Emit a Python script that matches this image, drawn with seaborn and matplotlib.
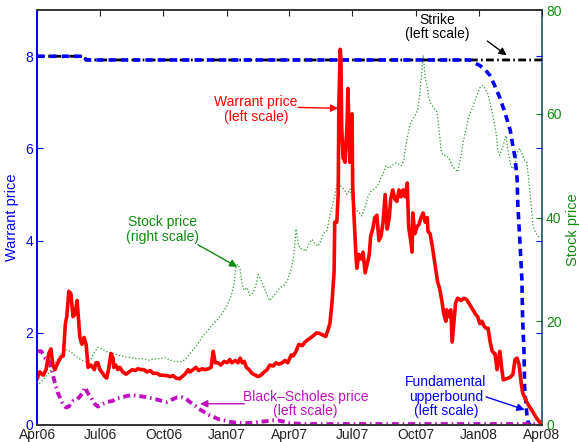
import matplotlib
matplotlib.use("Agg")
import matplotlib.pyplot as plt
import matplotlib.dates as mdates
import seaborn as sns
import pandas as pd
import numpy as np

# days counted from 2006-04-01
START = pd.Timestamp("2006-04-01")

warrant_day = [0, 4, 9, 13, 17, 20, 23, 26, 30, 35, 38, 41, 43, 46, 49, 52, 55, 58, 59, 62,
               65, 68, 71, 74, 78, 83, 85, 88, 91, 96, 98, 101, 104, 107, 110, 111, 114, 117, 120, 124,
               129, 133, 138, 142, 146, 151, 155, 159, 164, 168, 174, 178, 182, 188, 193, 197, 201, 206, 210, 214,
               219, 221, 226, 230, 234, 239, 243, 248, 252, 255, 258, 262, 266, 271, 275, 279, 282, 287, 291, 294,
               297, 300, 303, 307, 311, 316, 320, 324, 329, 333, 337, 342, 346, 350, 355, 359, 363, 368, 371, 375,
               379, 384, 388, 392, 397, 401, 405, 410, 414, 418, 421, 424, 427, 430, 431, 434, 436, 437, 439, 440,
               441, 443, 446, 449, 450, 452, 453, 455, 456, 457, 459, 462, 463, 466, 469, 472, 475, 478, 481, 483,
               486, 489, 492, 495, 498, 501, 504, 507, 510, 512, 515, 518, 521, 524, 527, 530, 533, 536, 538, 541,
               543, 544, 547, 550, 553, 556, 559, 562, 565, 566, 569, 572, 575, 578, 580, 583, 586, 589, 592, 593,
               596, 599, 601, 604, 606, 609, 614, 618, 622, 627, 631, 635, 638, 641, 644, 647, 650, 653, 656, 659,
               662, 663, 666, 669, 670, 673, 675, 679, 683, 686, 689, 692, 695, 698, 701, 703, 706, 709, 712, 715,
               718, 721, 724, 727, 730]
warrant_price = [1.0, 1.15, 1.08, 1.2, 1.55, 1.65, 1.3, 1.2, 1.35, 1.48, 1.5, 2.2, 2.35, 2.9, 2.85, 2.35, 2.4, 2.7, 2.5, 1.9,
                 1.75, 1.9, 1.75, 1.25, 1.3, 1.2, 1.35, 1.35, 1.2, 1.1, 1.05, 1.02, 1.25, 1.55, 1.45, 1.25, 1.3, 1.2, 1.25, 1.15,
                 1.1, 1.15, 1.2, 1.18, 1.22, 1.2, 1.2, 1.15, 1.18, 1.12, 1.12, 1.08, 1.08, 1.07, 1.05, 1.07, 1.02, 1.0, 1.05, 1.1,
                 1.2, 1.15, 1.2, 1.25, 1.18, 1.22, 1.2, 1.22, 1.25, 1.6, 1.35, 1.35, 1.3, 1.38, 1.35, 1.42, 1.35, 1.4, 1.35, 1.45,
                 1.35, 1.38, 1.25, 1.2, 1.12, 1.08, 1.05, 1.08, 1.15, 1.2, 1.3, 1.28, 1.35, 1.32, 1.35, 1.4, 1.35, 1.52, 1.5, 1.6,
                 1.75, 1.72, 1.8, 1.85, 1.9, 1.95, 2.0, 1.98, 1.95, 1.92, 2.05, 2.2, 2.65, 3.3, 4.4, 4.4, 5.0, 7.0, 8.15, 7.9,
                 6.5, 5.8, 5.7, 6.6, 7.3, 6.2, 5.7, 6.4, 6.75, 5.2, 4.5, 3.6, 3.4, 3.7, 3.6, 3.75, 3.3, 3.5, 3.7, 4.1,
                 4.25, 4.5, 4.55, 4.0, 4.1, 4.4, 5.0, 4.25, 4.5, 4.9, 5.1, 4.9, 4.85, 5.1, 4.95, 5.1, 4.95, 5.25, 4.3, 4.0,
                 3.75, 4.6, 4.15, 4.3, 4.35, 4.5, 4.6, 4.4, 4.5, 4.2, 4.15, 3.9, 3.6, 3.3, 3.1, 2.95, 2.7, 2.4, 2.25, 2.5,
                 2.35, 2.5, 1.8, 2.3, 2.65, 2.75, 2.7, 2.75, 2.72, 2.6, 2.5, 2.4, 2.35, 2.2, 2.25, 2.15, 2.1, 2.1, 1.8, 1.6,
                 1.55, 1.55, 1.2, 1.5, 1.6, 1.2, 0.98, 1.0, 1.02, 1.05, 1.1, 1.42, 1.45, 1.3, 0.9, 0.7, 0.6, 0.5, 0.42, 0.35,
                 0.28, 0.2, 0.13, 0.08, 0.02]

stock_day = [0, 7, 14, 22, 29, 36, 43, 48, 54, 59, 65, 71, 77, 83, 88, 96, 103, 110, 117, 126,
             135, 143, 152, 161, 169, 178, 185, 193, 201, 210, 217, 224, 232, 239, 246, 253, 261, 268, 275, 281,
             285, 288, 291, 294, 297, 300, 304, 308, 313, 317, 320, 324, 329, 333, 337, 342, 346, 352, 358, 363,
             368, 372, 375, 378, 381, 385, 389, 394, 398, 402, 407, 411, 415, 420, 424, 428, 433, 436, 440, 444,
             449, 453, 457, 462, 466, 470, 475, 479, 483, 488, 492, 496, 501, 505, 510, 514, 518, 523, 527, 531,
             534, 537, 540, 544, 549, 551, 554, 557, 559, 562, 565, 567, 570, 575, 579, 582, 585, 588, 592, 596,
             601, 605, 609, 614, 617, 621, 625, 630, 634, 638, 641, 646, 650, 653, 656, 660, 665, 667, 670, 675,
             679, 683, 686, 689, 693, 696, 699, 703, 706, 709, 712, 715, 718, 722, 728]
stock_price = [7.5, 8.5, 9.5, 11, 12.5, 14, 14.5, 14.2, 13.5, 13, 12.5, 12.2, 12.5, 14, 15, 14.5, 14, 13.8, 13.5, 13.2,
               13, 12.8, 12.8, 12.5, 12.7, 12.8, 13, 12.5, 12.2, 12.2, 13, 14.2, 15.5, 17, 18, 19.2, 20.3, 21.5, 23, 25,
               27, 30.5, 31, 30, 27, 26, 26.5, 25, 25.5, 27, 29, 28, 26.5, 25, 24, 24.8, 25.5, 26.5, 27, 28,
               30, 33, 37.8, 35, 34, 34, 33.5, 35, 35.8, 35, 34.5, 35.5, 37, 37.5, 40.5, 42.5, 45.5, 47, 46, 45.5,
               44.5, 45.5, 43, 41.5, 41, 40.3, 42, 44, 45, 45.5, 46, 47, 48.5, 50, 49.5, 50, 50.5, 50.4, 50, 51,
               54, 56, 58, 59, 60, 61, 63.5, 68, 71.3, 67, 65, 63, 62, 61, 60.4, 57, 53, 52, 52, 51.5,
               50, 49.4, 48.8, 52, 54.6, 57, 59.5, 61, 62.5, 64, 65, 65.5, 64.5, 63.8, 62, 59.7, 56, 53, 52, 54,
               55.8, 52, 50, 49.4, 51, 53, 53.3, 52, 51, 50.7, 47, 43, 38.4, 37, 36]

bs_day = [0, 6, 12, 17, 22, 26, 30, 36, 42, 46, 52, 58, 62, 67, 69, 74, 78, 84, 88, 94,
          101, 109, 116, 123, 130, 138, 145, 152, 159, 166, 174, 181, 188, 195, 203, 210, 217, 223, 229, 234,
          240, 248, 255, 262, 271, 279, 288, 297, 305, 314, 323, 331, 340, 349, 358, 366, 375, 388, 410, 730]
bs_price = [1.6, 1.6, 1.45, 1.4, 1.15, 0.9, 0.7, 0.5, 0.38, 0.4, 0.52, 0.55, 0.62, 0.72, 0.82, 0.68, 0.6, 0.45, 0.4, 0.45,
            0.5, 0.52, 0.58, 0.6, 0.63, 0.65, 0.63, 0.62, 0.6, 0.58, 0.55, 0.52, 0.5, 0.55, 0.6, 0.6, 0.55, 0.48, 0.42, 0.35,
            0.3, 0.22, 0.18, 0.13, 0.1, 0.07, 0.05, 0.04, 0.04, 0.05, 0.07, 0.08, 0.1, 0.1, 0.07, 0.04, 0.03, 0.02, 0.02, 0.02]

strike_day = [0, 68, 71, 731]
strike = [8.0, 8.0, 7.92, 7.92]

bound_day = [0, 68, 71, 627, 634, 641, 648, 656, 663, 670, 677, 685, 689, 692, 695, 696, 699, 702, 703, 705,
             706, 709, 711, 714]
bound = [8.0, 8.0, 7.92, 7.92, 7.85, 7.8, 7.72, 7.58, 7.35, 7.1, 6.8, 6.4, 6.05, 5.8, 5.35, 4.8, 4.0, 3.15, 2.3, 1.6,
         0.8, 0.25, 0.05, 0.0]


def to_dates(days):
    return START + pd.to_timedelta(days, unit="D")


BLUE = "#0000ff"
GREEN = "#118a11"
RED = "#ff0000"
MAGENTA = "#c010c0"

sns.set_style("white")
plt.rcParams["font.family"] = ["Liberation Sans", "DejaVu Sans"]
plt.rcParams["font.size"] = 10

fig = plt.figure(figsize=(5.79, 4.42), dpi=100)
ax1 = fig.add_axes([0.064, 0.0385, 0.872, 0.9385])
ax2 = ax1.twinx()

# right scale: stock price
sns.lineplot(x=to_dates(stock_day), y=stock_price, ax=ax2, color="#2a9a2a",
             linestyle=":", linewidth=0.9)

# left scale
sns.lineplot(x=to_dates(strike_day), y=strike, ax=ax1, color="black",
             dashes=(2.8, 1.2, 0.6, 1.2), linewidth=2.0)
sns.lineplot(x=to_dates(bound_day), y=bound, ax=ax1, color=BLUE,
             dashes=(2, 1.4), linewidth=2.6)
sns.lineplot(x=to_dates(bs_day), y=bs_price, ax=ax1, color=MAGENTA,
             dashes=(1.8, 1.0, 0.4, 1.0), linewidth=2.8)
sns.lineplot(x=to_dates(warrant_day), y=warrant_price, ax=ax1, color=RED,
             linewidth=2.6)

ax1.set_zorder(ax2.get_zorder() + 1)
ax1.patch.set_visible(False)

ax1.set_xlim(pd.Timestamp("2006-04-01"), pd.Timestamp("2008-04-01"))
ax1.set_ylim(0, 9)
ax2.set_ylim(0, 80)
ax1.set_yticks([0, 2, 4, 6, 8])
ax2.set_yticks([0, 20, 40, 60, 80])

ax1.xaxis.set_major_locator(mdates.MonthLocator(bymonth=[1, 4, 7, 10]))
ax1.xaxis.set_major_formatter(mdates.DateFormatter("%b%y"))

ax1.tick_params(axis="x", direction="in", top=True, length=4, colors="#222222",
                labelsize=10, pad=2)
ax1.tick_params(axis="y", direction="in", right=True, length=4, colors=BLUE,
                labelsize=10, pad=3)
ax2.tick_params(axis="y", direction="in", length=4, colors=GREEN, labelsize=10, pad=3)

for sp in ["top", "bottom"]:
    ax1.spines[sp].set_color("#333333")
    ax1.spines[sp].set_linewidth(1.4)
ax1.spines["left"].set_color(BLUE)
ax1.spines["left"].set_linewidth(1.4)
ax1.spines["right"].set_visible(False)
for sp in ["top", "bottom", "left"]:
    ax2.spines[sp].set_visible(False)
ax2.spines["right"].set_color("#1f4f6f")
ax2.spines["right"].set_linewidth(1.2)

ax1.set_xlabel("")
ax1.set_ylabel("Warrant price", color=BLUE, fontsize=10.5)
ax1.yaxis.set_label_coords(-0.036, 0.5)
ax2.set_ylabel("Stock price", color=GREEN, fontsize=10.5)
ax2.yaxis.set_label_coords(1.047, 0.47)

d = pd.Timestamp
arrow = dict(arrowstyle="-|>", lw=1.0, mutation_scale=11, shrinkA=0, shrinkB=0)

ax1.text(d("2007-11-01"), 8.63, "Strike\n(left scale)", color="black",
         ha="center", va="center", linespacing=1.05)
ax1.annotate("", xy=(d("2008-02-10"), 8.02), xytext=(d("2008-01-13"), 8.33),
             arrowprops=dict(arrow, color="black"))

ax1.text(d("2007-02-12"), 6.85, "Warrant price\n(left scale)", color=RED,
         ha="center", va="center", linespacing=1.05)
ax1.annotate("", xy=(d("2007-06-11"), 6.87), xytext=(d("2007-04-14"), 6.89),
             arrowprops=dict(arrow, color=RED))

ax1.text(d("2006-09-29"), 4.24, "Stock price\n(right scale)", color=GREEN,
         ha="center", va="center", linespacing=1.05)
ax1.annotate("", xy=(d("2007-01-16"), 3.43), xytext=(d("2006-11-20"), 3.91),
             arrowprops=dict(arrow, color=GREEN))

ax1.text(d("2007-04-25"), 0.46, "Black\u2013Scholes price\n(left scale)", color=MAGENTA,
         ha="center", va="center", linespacing=1.05)
ax1.annotate("", xy=(d("2006-11-23"), 0.46), xytext=(d("2007-01-26"), 0.46),
             arrowprops=dict(arrow, color=MAGENTA))

ax1.text(d("2007-11-14"), 0.61, "Fundamental\nupperbound\n(left scale)", color=BLUE,
         ha="center", va="center", linespacing=1.05)
ax1.annotate("", xy=(d("2008-03-07"), 0.33), xytext=(d("2008-01-11"), 0.61),
             arrowprops=dict(arrow, color=BLUE))

fig.savefig("out.png", dpi=100)
